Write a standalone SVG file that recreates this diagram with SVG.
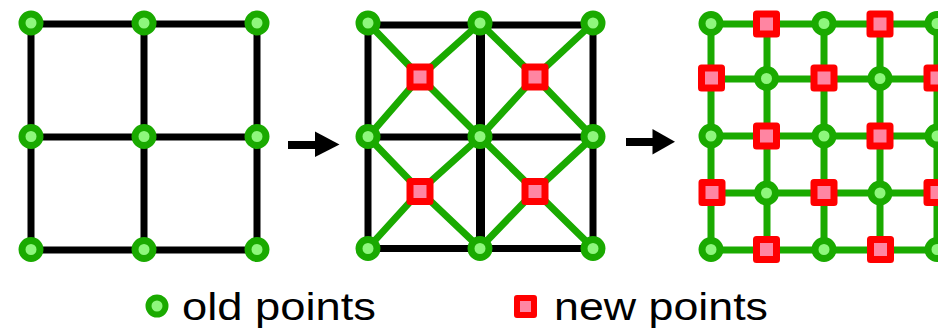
<svg xmlns="http://www.w3.org/2000/svg" xmlns:xlink="http://www.w3.org/1999/xlink" width="938" height="331" viewBox="0 0 938 331">
  <style>
    .edge-old { stroke: #000000; stroke-width: 7; fill: none; stroke-linecap: square; }
    .edge-new { stroke: #1aaa00; stroke-width: 7; fill: none; stroke-linecap: round; }
    .old { fill: #8ef77c; stroke: #1aaa00; stroke-width: 7; }
    .new { fill: #ff85a2; stroke: #ff0000; stroke-width: 7; stroke-linejoin: round; }
    .step { fill: #000000; }
    .label { font-family: "Liberation Sans", Arial, sans-serif; font-size: 39px; fill: #000000; }
  </style>
  <defs>
    <circle id="old-pt" class="old" r="9"/>
    <rect id="new-pt" class="new" x="-10" y="-10" width="20" height="20"/>
  </defs>

  <!-- edges: coarse black mesh, then green refinement links -->
  <g id="connectors">
    <!-- mesh 1 -->
    <path class="edge-old" d="M31 24H257M31 137H257M31 250H257M31 23V250M144 23V250M257 23V250"/>
    <!-- mesh 2: original edges -->
    <path class="edge-old" d="M368 25H593M368 137H593M368 248.5H593M368 23V248M593 23V248"/>
    <path class="edge-old" d="M480.5 23V248" style="stroke-width:9"/>
    <!-- mesh 2: diagonals through the face points -->
    <path class="edge-new" d="M368 23L420 77L480 137L535 77L593 23M480 23L420 77L368 137L420 191L480 248L535 191L593 137L535 77L480 23M480 137L420 191L368 248M480 137L535 191L593 248"/>
    <!-- mesh 3: refined grid -->
    <path class="edge-new" d="M711 24H940M711 79H940M711 136H940M711 193H940M711 250H940M711 24V250M767 24V250M824 24V250M880 24V250M937 24V250"/>
  </g>

  <!-- step arrows -->
  <g id="arrow-1">
    <rect class="step" x="288" y="141" width="28" height="8"/>
    <polygon class="step" points="315,131.5 339.5,144.5 315,157"/>
  </g>
  <g id="arrow-2">
    <rect class="step" x="626" y="138" width="28" height="8"/>
    <polygon class="step" points="652.5,129 675,141.7 652.5,154.5"/>
  </g>

  <!-- mesh 1 vertices -->
  <g id="m1-a"><use xlink:href="#old-pt" x="31" y="23"/></g>
  <g id="m1-b"><use xlink:href="#old-pt" x="144" y="23"/></g>
  <g id="m1-c"><use xlink:href="#old-pt" x="257" y="23"/></g>
  <g id="m1-d"><use xlink:href="#old-pt" x="31" y="136.5"/></g>
  <g id="m1-e"><use xlink:href="#old-pt" x="144" y="136.5"/></g>
  <g id="m1-f"><use xlink:href="#old-pt" x="257" y="136.5"/></g>
  <g id="m1-g"><use xlink:href="#old-pt" x="31" y="249.5"/></g>
  <g id="m1-h"><use xlink:href="#old-pt" x="144" y="249.5"/></g>
  <g id="m1-i"><use xlink:href="#old-pt" x="257" y="249.5"/></g>

  <!-- mesh 2 vertices -->
  <g id="m2-a"><use xlink:href="#old-pt" x="368" y="23"/></g>
  <g id="m2-b"><use xlink:href="#old-pt" x="480" y="23"/></g>
  <g id="m2-c"><use xlink:href="#old-pt" x="593" y="23"/></g>
  <g id="m2-d"><use xlink:href="#old-pt" x="368" y="136.5"/></g>
  <g id="m2-e"><use xlink:href="#old-pt" x="480" y="136.5"/></g>
  <g id="m2-f"><use xlink:href="#old-pt" x="593" y="136.5"/></g>
  <g id="m2-g"><use xlink:href="#old-pt" x="368" y="248.5"/></g>
  <g id="m2-h"><use xlink:href="#old-pt" x="480" y="248.5"/></g>
  <g id="m2-i"><use xlink:href="#old-pt" x="593" y="248.5"/></g>
  <g id="m2-f1"><use xlink:href="#new-pt" x="420" y="77"/></g>
  <g id="m2-f2"><use xlink:href="#new-pt" x="535" y="77"/></g>
  <g id="m2-f3"><use xlink:href="#new-pt" x="420" y="191.5"/></g>
  <g id="m2-f4"><use xlink:href="#new-pt" x="535" y="191.5"/></g>

  <!-- mesh 3 vertices, row by row -->
  <g id="m3-r0c0"><use xlink:href="#old-pt" x="711" y="23.5"/></g>
  <g id="m3-r0c1"><use xlink:href="#new-pt" x="766.5" y="24"/></g>
  <g id="m3-r0c2"><use xlink:href="#old-pt" x="824" y="23.5"/></g>
  <g id="m3-r0c3"><use xlink:href="#new-pt" x="880" y="24"/></g>
  <g id="m3-r0c4"><use xlink:href="#old-pt" x="937" y="23.5"/></g>

  <g id="m3-r1c0"><use xlink:href="#new-pt" x="711.5" y="78"/></g>
  <g id="m3-r1c1"><use xlink:href="#old-pt" x="766.5" y="78.5"/></g>
  <g id="m3-r1c2"><use xlink:href="#new-pt" x="824" y="78"/></g>
  <g id="m3-r1c3"><use xlink:href="#old-pt" x="880" y="78.5"/></g>
  <g id="m3-r1c4"><use xlink:href="#new-pt" x="937" y="78"/></g>

  <g id="m3-r2c0"><use xlink:href="#old-pt" x="711" y="136"/></g>
  <g id="m3-r2c1"><use xlink:href="#new-pt" x="766.5" y="136"/></g>
  <g id="m3-r2c2"><use xlink:href="#old-pt" x="824" y="136"/></g>
  <g id="m3-r2c3"><use xlink:href="#new-pt" x="880" y="136"/></g>
  <g id="m3-r2c4"><use xlink:href="#old-pt" x="937" y="136"/></g>

  <g id="m3-r3c0"><use xlink:href="#new-pt" x="712" y="192.5"/></g>
  <g id="m3-r3c1"><use xlink:href="#old-pt" x="766.5" y="193"/></g>
  <g id="m3-r3c2"><use xlink:href="#new-pt" x="824" y="192.5"/></g>
  <g id="m3-r3c3"><use xlink:href="#old-pt" x="880" y="193"/></g>
  <g id="m3-r3c4"><use xlink:href="#new-pt" x="937" y="192.5"/></g>

  <g id="m3-r4c0"><use xlink:href="#old-pt" x="711" y="249.5"/></g>
  <g id="m3-r4c1"><use xlink:href="#new-pt" x="766.5" y="249.5"/></g>
  <g id="m3-r4c2"><use xlink:href="#old-pt" x="824" y="249.5"/></g>
  <g id="m3-r4c3"><use xlink:href="#new-pt" x="880.5" y="249.5"/></g>
  <g id="m3-r4c4"><use xlink:href="#old-pt" x="937" y="249.5"/></g>

  <!-- legend -->
  <g id="legend-old">
    <circle class="old" cx="157" cy="306" r="8.5" style="stroke-width:6"/>
    <text class="label" x="182" y="319.5" textLength="194" lengthAdjust="spacingAndGlyphs">old points</text>
  </g>
  <g id="legend-new">
    <rect class="new" x="517" y="298" width="17" height="17" style="stroke-width:6"/>
    <text class="label" x="554" y="319.5" textLength="214" lengthAdjust="spacingAndGlyphs">new points</text>
  </g>
</svg>
